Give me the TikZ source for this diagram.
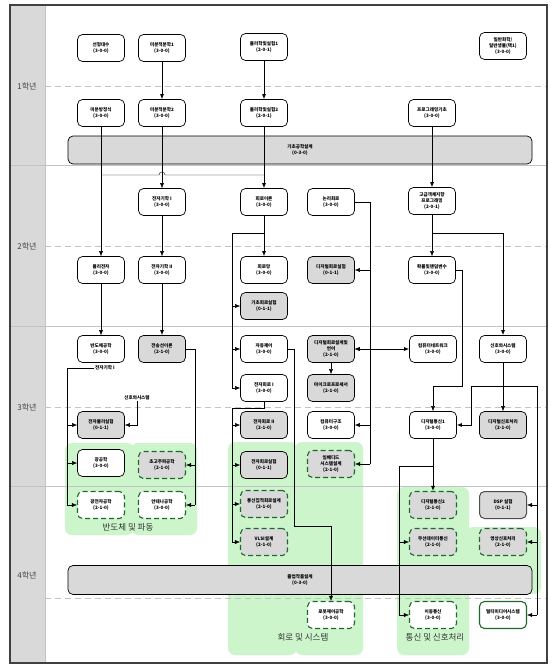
\documentclass[tikz,border=0pt]{standalone}
\usepackage{fontspec}
\setmainfont{Noto Sans CJK KR}
\usepackage{xcolor}
\usepackage{tikz}
\usetikzlibrary{arrows.meta,positioning}

\definecolor{grpgreen}{RGB}{204,245,204}
\definecolor{elgreen}{RGB}{30,105,40}
\definecolor{laneline}{RGB}{195,195,195}

\begin{document}
\begin{tikzpicture}[x=1pt,y=-1pt,>={Latex[length=5pt,width=4pt]}]
  \tikzstyle{course}=[draw,rounded corners=5pt,align=center,minimum width=47pt,minimum height=27pt,inner sep=1pt,fill=white,line width=0.7pt,font=\fontsize{4.6}{5.8}\selectfont\bfseries]
  \tikzstyle{lab}=[course,fill=gray!30]
  \tikzstyle{elective}=[course,draw=elgreen,line width=1.1pt,dash pattern=on 5pt off 3pt]
  \tikzstyle{elab}=[elective,fill=gray!30]
  \tikzstyle{wide}=[lab,minimum width=464pt,minimum height=28pt]
  \tikzstyle{grp}=[fill=grpgreen,rounded corners=7pt]
  \tikzstyle{grplabel}=[font=\fontsize{8.5}{9}\selectfont,text=black!80]
  \tikzstyle{yearlabel}=[font=\fontsize{8}{9}\selectfont,text=black!75]
  \tikzstyle{note}=[font=\fontsize{4.6}{5.8}\selectfont\bfseries,inner sep=1pt]

  \useasboundingbox (0,0) rectangle (559,669);
  \fill[white] (0,0) rectangle (559,669);

  % track groups
  \fill[grp] (65,443) rectangle (134,535);
  \fill[grp] (131,443) rectangle (197,535);
  \fill[grp] (228,442) rectangle (297,655);
  \fill[grp] (295,442) rectangle (363,655);
  \fill[grp] (397,487) rectangle (469,655);
  \fill[grp] (466,527) rectangle (541,594);

  % year lanes
  \fill[gray!30] (10,5) rectangle (45,663);
  \foreach \y in {165,326,486}
    \draw[laneline,line width=0.8pt] (10,\y) -- (547,\y);
  \foreach \y in {86,246,407,598}
    \draw[laneline,dash pattern=on 6pt off 4pt,line width=0.8pt] (45,\y) -- (547,\y);
  \draw[laneline] (45,5) -- (45,663);
  \draw[black!75,line width=1.2pt] (10,5) rectangle (547,663);
  \node[yearlabel] (y1) at (27,86) {1학년};
  \node[yearlabel] (y2) at (27,246) {2학년};
  \node[yearlabel] (y3) at (27,407) {3학년};
  \node[yearlabel] (y4) at (27,575) {4학년};

  \node[grplabel] (g1) at (128,527) {반도체 및 파동};
  \node[grplabel] (g2) at (303,637) {회로 및 시스템};
  \node[grplabel] (g3) at (435,637) {통신 및 신호처리};

  % year 1
  \node[course] (la) at (101,48) {선형대수\\(3-0-0)};
  \node[course] (calc1) at (162,48) {미분적분학1\\(3-0-0)};
  \node[course] (phy1) at (264,47) {물리학및실험1\\(2-0-1)};
  \node[course] (chem) at (503,46) {일반화학/\\일반생물(택1)\\(3-0-0)};
  \node[course] (ode) at (101,113) {미분방정식\\(3-0-0)};
  \node[course] (calc2) at (162,113) {미분적분학2\\(3-0-0)};
  \node[course] (phy2) at (264,113) {물리학및실험2\\(2-0-1)};
  \node[course] (prog) at (432,113) {프로그래밍기초\\(3-0-0)};
  \node[wide] (basic) at (300,150) {기초공학설계\\(0-3-0)};

  % year 2
  \node[course] (em1) at (162,202) {전자기학 I\\(3-0-0)};
  \node[course] (ckt) at (264,202) {회로이론\\(3-0-0)};
  \node[course] (logic) at (331,202) {논리회로\\(3-0-0)};
  \node[course] (oop) at (432,201) {고급객체지향\\프로그래밍\\(2-0-1)};
  \node[course] (physel) at (101,270) {물리전자\\(3-0-0)};
  \node[course] (em2) at (162,270) {전자기학 II\\(3-0-0)};
  \node[course] (net) at (264,270) {회로망\\(3-0-0)};
  \node[lab] (dlab) at (331,270) {디지털회로실험\\(0-1-1)};
  \node[course] (prob) at (432,270) {확률및랜덤변수\\(3-0-0)};
  \node[lab] (clab) at (264,306) {기초회로실험\\(0-1-1)};

  % year 3
  \node[course] (semi) at (101,349) {반도체공학\\(3-0-0)};
  \node[lab] (tline) at (162,349) {전송선이론\\(2-1-0)};
  \node[course] (ctrl) at (264,349) {자동제어\\(3-0-0)};
  \node[lab] (dsd) at (331,349) {디지털회로설계및\\언어\\(2-1-0)};
  \node[course] (cnet) at (433,349) {컴퓨터네트워크\\(3-0-0)};
  \node[course] (sas) at (503,349) {신호와시스템\\(3-0-0)};
  \node[course] (ec1) at (264,388) {전자회로 I\\(3-0-0)};
  \node[lab] (mpu) at (331,388) {마이크로프로세서\\(2-1-0)};
  \node[lab] (eplab) at (101,425) {전자물리실험\\(0-1-1)};
  \node[lab] (ec2) at (264,425) {전자회로 II\\(2-1-0)};
  \node[course] (arch) at (331,425) {컴퓨터구조\\(3-0-0)};
  \node[course] (dcom1) at (433,425) {디지털통신1\\(3-0-0)};
  \node[lab] (dsp) at (503,425) {디지털신호처리\\(2-1-0)};
  \node[course] (opt) at (101,463) {광공학\\(3-0-0)};
  \node[elab] (mw) at (162,465) {초고주파공학\\(2-1-0)};
  \node[lab] (eclab) at (264,465) {전자회로실험\\(0-1-1)};
  \node[elab] (emb) at (331,464) {임베디드\\시스템설계\\(2-1-0)};
  \node[note] (lblem) at (105,368) {전자기학 I};
  \node[note] (lblsas) at (137,398) {신호와시스템};

  % year 4
  \node[elective] (oe) at (101,505) {광전자공학\\(2-1-0)};
  \node[elective] (ant) at (162,505) {안테나공학\\(3-0-0)};
  \node[elab] (ic) at (264,504) {통신집적회로설계\\(2-1-0)};
  \node[elab] (dcom2) at (433,505) {디지털통신2\\(2-1-0)};
  \node[lab,draw=black!70,line width=1pt] (dsplab) at (503,505) {DSP 실험\\(0-1-1)};
  \node[elab] (vlsi) at (264,542) {VLSI설계\\(2-1-0)};
  \node[elab] (wdc) at (433,542) {무선데이터통신\\(2-1-0)};
  \node[elab] (img) at (503,542) {영상신호처리\\(2-1-0)};
  \node[wide,minimum height=29pt] (capstone) at (300,580) {졸업작품설계\\(0-3-0)};
  \node[elective] (robot) at (331,615) {로봇제어공학\\(3-0-0)};
  \node[elective] (mob) at (433,615) {이동통신\\(3-0-0)};
  \node[course,draw=elgreen,line width=1.1pt] (mm) at (503,615) {멀티미디어시스템\\(3-0-0)};

  % prerequisites
  \draw[->,thick] (calc1) -- (calc2);
  \draw[->,thick] (phy1) -- (phy2);
  \draw[->,thick] (phy2) -- (ckt);
  \draw[->] (ode) -- (physel);
  \draw[->] (calc2) -- (em1);
  \draw (phy2.south |- 0,175) -- (165,175) arc[start angle=0,end angle=-180,radius=3] -- (ode.south |- 0,175);
  \draw[->,thick] (prog) -- (oop);

  \draw[->] (em1) -- (em2);
  \draw[->,thick] (ckt) -- (net);
  \coordinate (cbus) at (232,233);
  \draw (ckt.south |- cbus) -- (cbus) -- (cbus |- ec1);
  \foreach \c in {clab,ctrl,ec1}
    \draw[->] (cbus |- \c) -- (\c.west);
  \draw (logic.east) -- ++(15,0) coordinate (lbus) -- (lbus |- emb);
  \foreach \c in {dlab,dsd,arch,emb}
    \draw[->] (lbus |- \c) -- (\c.east);
  \draw[<->,thick] (dsd) -- (cnet);
  \draw[->] (dsd) -- (mpu);
  \draw[->] (oop) -- (prob);
  \coordinate (obus) at (432,233);
  \draw[->,thick] (obus) -| (sas);
  \draw[->] (prob.east) -- ++(6,0) |- (dcom1.north |- 0,386) -- (dcom1);

  \coordinate (sbus) at (503,386);
  \draw[->] (sas) -- (dsp);
  \draw[->,thick] (sbus) -- (471,386) |- (dcom1.east);
  \draw (sbus) -- (537,386) coordinate (sbus2) -- (sbus2 |- mm);
  \foreach \c in {dsplab,img,mm}
    \draw[->] (sbus2 |- \c) -- (\c.east);

  \draw[->] (physel) -- (semi);
  \draw[->,thick] (em2) -- (tline);
  \draw (tline.east) -- ++(9,0) coordinate (tbus) -- (tbus |- ant);
  \foreach \c in {mw,ant}
    \draw[->] (tbus |- \c) -- (\c.east);
  \draw (lblem.west) -- (67,368) coordinate (ebus) -- (ebus |- oe);
  \foreach \c in {eplab,opt,oe}
    \draw[->] (ebus |- \c) -- (\c.west);
  \draw[->] (lblsas.south) |- (eplab.east);

  \draw (ec1.south) -- (ec1.south |- 0,408) -- (232,408) coordinate (rbus) -- (rbus |- vlsi);
  \foreach \c in {ec2,eclab,ic,vlsi}
    \draw[->] (rbus |- \c) -- (\c.west);
  \draw[->] (ctrl.east) -- ++(6,0) |- (robot.north |- 0,526) -- (robot);

  \draw[->,thick] (dcom1) -- (dcom2);
  \draw (dcom1.south |- 0,466) -- (399,466) coordinate (dbus) -- (dbus |- mob);
  \foreach \c in {wdc,mob}
    \draw[->] (dbus |- \c) -- (\c.west);
\end{tikzpicture}
\end{document}
